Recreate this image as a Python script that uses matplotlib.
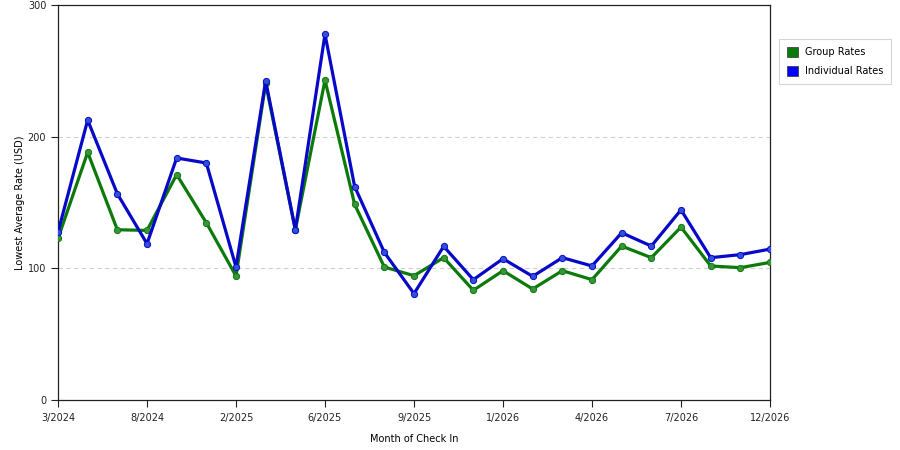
import matplotlib
matplotlib.use("Agg")
import matplotlib.pyplot as plt
from matplotlib.patches import Patch

# data (USD)
group_rates = [122.7, 188.1, 129.3, 128.8, 171.2, 134.6, 94.2, 240.4, 129.3, 242.9,
               148.5, 101.0, 94.4, 108.1, 83.3, 98.2, 84.3, 98.2, 91.4, 116.9,
               108.1, 131.3, 101.8, 100.5, 104.5]
indiv_rates = [127.5, 212.6, 156.6, 118.7, 183.8, 180.0, 101.0, 242.4, 129.3, 277.8,
               162.1, 112.1, 80.8, 116.7, 91.4, 107.3, 93.9, 108.1, 101.8, 127.0,
               116.9, 144.4, 108.1, 110.4, 114.6]
tick_idx = [0, 3, 6, 9, 12, 15, 18, 21, 24]
tick_labels = ["3/2024", "8/2024", "2/2025", "6/2025", "9/2025",
               "1/2026", "4/2026", "7/2026", "12/2026"]

GREEN, GREEN_M = "#0b7a0b", "#3a943a"
BLUE, BLUE_M = "#0808c8", "#3050dc"

plt.rcParams.update({"font.family": "DejaVu Sans", "font.size": 7})
fig = plt.figure(figsize=(9, 4.5), dpi=100)
ax = fig.add_axes([58 / 900, 50 / 450, 712 / 900, 395 / 450])

x = list(range(len(group_rates)))
ax.plot(x, group_rates, color=GREEN, lw=2.3, marker="o", ms=4.5,
        mfc=GREEN_M, mec=GREEN, mew=0.7, zorder=3)
ax.plot(x, indiv_rates, color=BLUE, lw=2.3, marker="o", ms=4.5,
        mfc=BLUE_M, mec=BLUE, mew=0.7, zorder=4)

ax.set_xlim(0, len(x) - 1)
ax.set_ylim(0, 300)
ax.set_yticks([0, 100, 200, 300])
ax.set_xticks(tick_idx)
ax.set_xticklabels(tick_labels)
for yv in (100, 200):
    ax.axhline(yv, color="#d0d0d0", lw=0.8, ls=(0, (4, 3)), zorder=1)
ax.tick_params(direction="out", length=5, width=0.8, colors="#222222", labelsize=7)
ax.tick_params(axis="x", pad=4)
for s in ax.spines.values():
    s.set_color("#222222")
    s.set_linewidth(0.9)

ax.set_ylabel("Lowest Average Rate (USD)", fontsize=7, labelpad=2)
ax.set_xlabel("Month of Check In", fontsize=7, labelpad=8)

handles = [Patch(facecolor="#0a7a0a", edgecolor="#333333", lw=0.5, label="Group Rates"),
           Patch(facecolor="#0000ff", edgecolor="#333333", lw=0.5, label="Individual Rates")]
leg = fig.legend(handles=handles, loc="upper left", bbox_to_anchor=(779 / 900, 1 - 39 / 450),
                 borderaxespad=0, fontsize=7, frameon=True, fancybox=False,
                 handlelength=1.2, handleheight=1.2, handletextpad=0.7,
                 labelspacing=0.9, borderpad=0.8)
leg.get_frame().set_edgecolor("#cccccc")
leg.get_frame().set_linewidth(0.8)

fig.savefig("out.png", dpi=100)
